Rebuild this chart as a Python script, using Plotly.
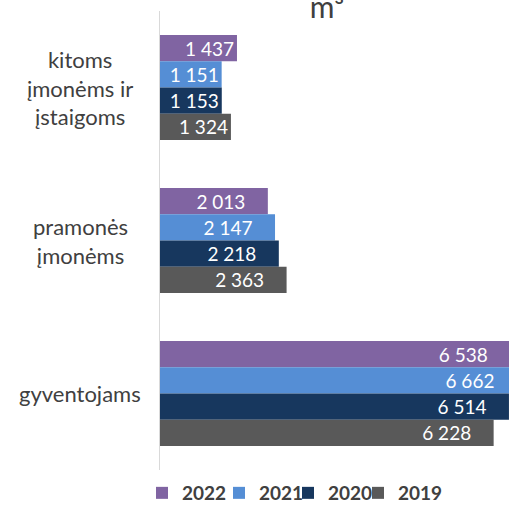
import plotly.graph_objects as go

categories = ["kitoms<br>įmonėms ir<br>įstaigoms", "pramonės<br>įmonėms", "gyventojams"]
years = ["2022", "2021", "2020", "2019"]
values_2022 = [1437, 2013, 6538]
values_2021 = [1151, 2147, 6662]
values_2020 = [1153, 2218, 6514]
values_2019 = [1324, 2363, 6228]
colors = ["#8064A2", "#558ED5", "#17375E", "#595959"]
title_text = "m³"

series = [values_2022, values_2021, values_2020, values_2019]

# label padding (non-breaking spaces) per category, style only
label_pad = [0, 4, 4]
# left pixel position of each legend entry
legend_px = [142, 219, 288, 358]

W, H = 535, 506
L, R, T, B = 160, 0, 11, 36
XMAX = 7000
pw = W - L - R
ph = H - T - B

def fmt(v, pad):
    return f"{v:,}".replace(",", " ") + "\u00a0" * pad

fig = go.Figure()
legend_ids = ["legend", "legend2", "legend3", "legend4"]
for name, vals, col, lid in zip(years, series, colors, legend_ids):
    fig.add_trace(go.Bar(
        y=categories, x=vals, name=name, orientation="h",
        marker=dict(color=col, line=dict(width=0)),
        text=[fmt(v, p) for v, p in zip(vals, label_pad)], textposition="inside",
        insidetextanchor="end", textangle=0, constraintext="none",
        textfont=dict(color="white", size=19, family="Lato"),
        cliponaxis=False, legend=lid,
    ))

for c in categories:
    fig.add_annotation(x=(80 - L) / pw, xref="paper", y=c, yref="y", text=c,
                       showarrow=False, xanchor="center", align="center",
                       font=dict(size=22, color="#404040", family="Lato"))

legend_style = dict(orientation="h", xanchor="left", y=-23 / ph, yanchor="middle",
                    font=dict(size=19, color="#404040", family="Lato", weight="bold"),
                    bgcolor="rgba(0,0,0,0)")
legends = {}
for lid, px in zip(legend_ids, legend_px):
    legends[lid] = dict(legend_style, x=(px - L) / pw)

fig.update_layout(
    width=W, height=H,
    margin=dict(l=L, r=R, t=T, b=B, pad=0, autoexpand=False),
    plot_bgcolor="white", paper_bgcolor="white",
    barmode="group", bargap=0.314, bargroupgap=0,
    title=dict(text=title_text, x=327 / W, xanchor="center", y=1 - 17.5 / H, yanchor="bottom",
               font=dict(size=30, color="#404040", family="Lato")),
    xaxis=dict(range=[0, XMAX], showgrid=False, showticklabels=False, zeroline=False,
               showline=False, fixedrange=True),
    yaxis=dict(autorange="reversed", showticklabels=False, showline=True,
               linecolor="#D9D9D9", linewidth=1, ticks="", showgrid=False, fixedrange=True),
    showlegend=True,
    **legends,
)
fig.write_html(
    "out.html",
    config={"displayModeBar": False},
    post_script="document.body.style.margin='0';document.body.style.overflow='hidden';"
                "document.documentElement.style.overflow='hidden';",
)
